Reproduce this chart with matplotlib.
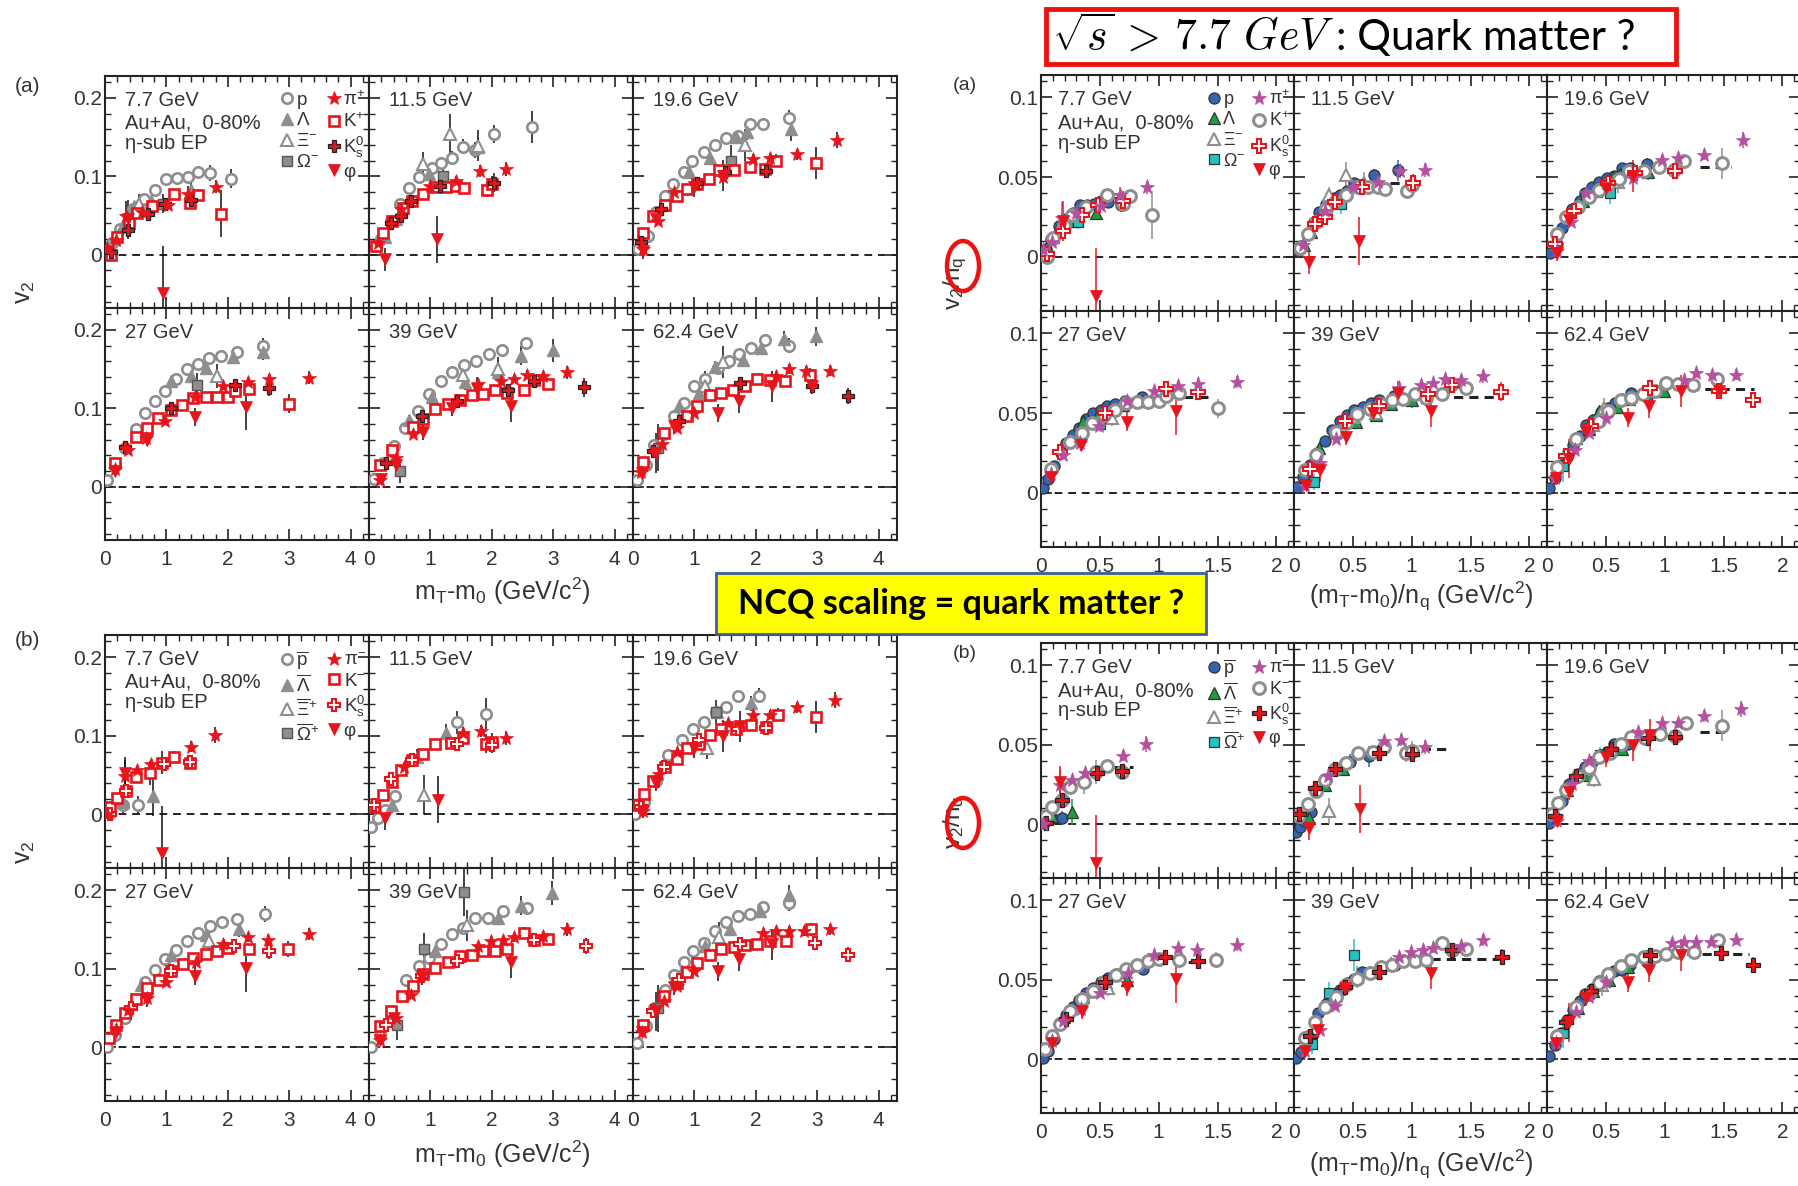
import matplotlib
matplotlib.use("Agg")
import matplotlib.pyplot as plt
from matplotlib.patches import Rectangle, Ellipse
from matplotlib.ticker import FixedLocator, MultipleLocator, FixedFormatter
from matplotlib.lines import Line2D

plt.rcParams['font.family'] = ['Liberation Sans', 'DejaVu Sans']
plt.rcParams['mathtext.fontset'] = 'custom'
plt.rcParams['mathtext.rm'] = 'Liberation Sans'
plt.rcParams['mathtext.it'] = 'Liberation Sans:italic'
plt.rcParams['mathtext.bf'] = 'Liberation Sans:bold'

# ---------------------------------------------------------------- data
ENERGIES = ["7.7 GeV", "11.5 GeV", "19.6 GeV", "27 GeV", "39 GeV", "62.4 GeV"]
SPECIES = ["p", "L", "Xi", "Om", "pi", "K", "Ks", "phi"]
NQ = {"p": 3, "L": 3, "Xi": 3, "Om": 3, "pi": 2, "K": 2, "Ks": 2, "phi": 2}

# (a) particles : species -> (mT-m0, v2, err)
A77 = {
    "p": ([0.05, 0.12, 0.25, 0.45, 0.64, 0.82, 1.0, 1.17, 1.36, 1.52, 1.71, 2.05],
          [0.006, 0.015, 0.033, 0.058, 0.071, 0.082, 0.097, 0.098, 0.099, 0.105, 0.104, 0.097],
          [0.003, 0.003, 0.003, 0.004, 0.004, 0.004, 0.005, 0.005, 0.006, 0.007, 0.010, 0.012]),
    "L": ([0.15, 0.3, 0.48, 0.75, 1.4], [0.02, 0.038, 0.062, 0.068, 0.082], [0.004, 0.004, 0.005, 0.006, 0.01]),
    "Xi": ([0.55], [0.065], [0.012]),
    "Om": ([0.95], [0.065], [0.012]),
    "pi": ([0.04, 0.18, 0.35, 0.6, 1.02, 1.35, 1.81], [0.008, 0.019, 0.049, 0.055, 0.064, 0.078, 0.087],
           [0.002, 0.003, 0.02, 0.004, 0.005, 0.01, 0.008]),
    "K": ([0.1, 0.2, 0.39, 0.52, 0.76, 1.13, 1.39, 1.52, 1.89],
          [0.0, 0.023, 0.04, 0.053, 0.062, 0.077, 0.066, 0.076, 0.052],
          [0.003, 0.004, 0.004, 0.005, 0.005, 0.006, 0.007, 0.008, 0.03]),
    "Ks": ([0.1, 0.37, 0.7, 0.97, 1.4], [0.003, 0.032, 0.052, 0.065, 0.07], [0.003, 0.005, 0.005, 0.006, 0.012]),
    "phi": ([0.37, 0.94], [0.045, -0.049], [0.025, 0.06]),
}
A115 = {
    "p": ([0.11, 0.19, 0.36, 0.5, 0.65, 0.82, 1.03, 1.18, 1.36, 1.53, 1.73, 2.03, 2.65],
          [0.011, 0.02, 0.043, 0.065, 0.085, 0.099, 0.111, 0.117, 0.124, 0.138, 0.134, 0.154, 0.163],
          [0.003, 0.003, 0.004, 0.005, 0.005, 0.006, 0.006, 0.007, 0.008, 0.009, 0.01, 0.012, 0.02]),
    "L": ([0.26, 0.44, 0.98, 1.78], [0.022, 0.046, 0.103, 0.137], [0.005, 0.006, 0.008, 0.012]),
    "Xi": ([0.88, 1.32, 1.78], [0.116, 0.154, 0.139], [0.015, 0.025, 0.02]),
    "Om": ([1.2], [0.1], [0.02]),
    "pi": ([0.15, 0.52, 1.0, 1.42, 1.8, 2.23], [0.015, 0.058, 0.088, 0.094, 0.107, 0.109],
           [0.003, 0.005, 0.006, 0.007, 0.008, 0.009]),
    "K": ([0.11, 0.23, 0.37, 0.55, 0.7, 0.88, 1.08, 1.25, 1.42, 1.54, 1.92, 2.01],
          [0.011, 0.028, 0.043, 0.06, 0.069, 0.077, 0.087, 0.087, 0.088, 0.085, 0.083, 0.09],
          [0.003, 0.003, 0.004, 0.004, 0.004, 0.005, 0.005, 0.006, 0.006, 0.007, 0.01, 0.01]),
    "Ks": ([0.36, 0.52, 0.69, 1.15, 2.03], [0.041, 0.05, 0.069, 0.088, 0.092], [0.004, 0.005, 0.005, 0.006, 0.012]),
    "phi": ([0.26, 1.11], [-0.006, 0.02], [0.015, 0.03]),
}
A196 = {
    "p": ([0.08, 0.25, 0.38, 0.52, 0.65, 0.83, 0.96, 1.15, 1.33, 1.52, 1.71, 1.9, 2.12, 2.54],
          [0.007, 0.024, 0.054, 0.075, 0.09, 0.105, 0.12, 0.131, 0.14, 0.149, 0.152, 0.167, 0.167, 0.175],
          [0.002, 0.002, 0.003, 0.003, 0.003, 0.004, 0.004, 0.004, 0.005, 0.005, 0.006, 0.006, 0.007, 0.01]),
    "L": ([0.92, 1.25, 1.67, 1.85, 2.57], [0.105, 0.124, 0.15, 0.156, 0.16], [0.006, 0.007, 0.008, 0.01, 0.015]),
    "Xi": ([1.82], [0.14], [0.02]),
    "Om": ([1.6], [0.12], [0.02]),
    "pi": ([0.17, 0.4, 0.67, 1.46, 1.96, 2.23, 2.67, 3.33], [0.007, 0.043, 0.08, 0.099, 0.122, 0.124, 0.128, 0.146],
           [0.002, 0.003, 0.004, 0.005, 0.006, 0.006, 0.007, 0.01]),
    "K": ([0.17, 0.33, 0.52, 0.71, 0.88, 1.04, 1.23, 1.4, 1.65, 1.9, 2.15, 2.33, 2.98],
          [0.028, 0.05, 0.063, 0.075, 0.084, 0.09, 0.097, 0.108, 0.108, 0.112, 0.109, 0.12, 0.117],
          [0.002, 0.003, 0.003, 0.003, 0.004, 0.004, 0.004, 0.005, 0.005, 0.006, 0.007, 0.008, 0.02]),
    "Ks": ([0.13, 0.46, 1.04, 1.5, 2.17], [0.016, 0.058, 0.092, 0.105, 0.107], [0.003, 0.004, 0.005, 0.006, 0.007]),
    "phi": ([0.17, 0.38, 1.0, 1.46], [0.005, 0.046, 0.086, 0.101], [0.01, 0.01, 0.012, 0.02]),
}
A27 = {
    "p": ([0.04, 0.17, 0.33, 0.5, 0.65, 0.82, 0.98, 1.15, 1.33, 1.52, 1.69, 1.89, 2.15, 2.58],
          [0.009, 0.026, 0.05, 0.074, 0.094, 0.109, 0.122, 0.138, 0.15, 0.156, 0.164, 0.167, 0.172, 0.18],
          [0.002, 0.002, 0.002, 0.003, 0.003, 0.003, 0.003, 0.004, 0.004, 0.004, 0.005, 0.005, 0.006, 0.01]),
    "L": ([1.08, 1.4, 1.65, 2.08, 2.57], [0.135, 0.141, 0.152, 0.165, 0.172], [0.005, 0.006, 0.007, 0.008, 0.01]),
    "Xi": ([1.82], [0.141], [0.015]),
    "Om": ([1.5], [0.13], [0.015]),
    "pi": ([0.17, 0.37, 0.67, 0.98, 1.46, 1.92, 2.33, 2.67, 3.33],
           [0.023, 0.047, 0.062, 0.084, 0.115, 0.128, 0.134, 0.137, 0.139],
           [0.002, 0.003, 0.003, 0.004, 0.004, 0.005, 0.006, 0.007, 0.008]),
    "K": ([0.17, 0.5, 0.69, 0.86, 1.07, 1.25, 1.44, 1.64, 1.82, 2.0, 2.12, 2.35, 3.0],
          [0.03, 0.064, 0.075, 0.088, 0.098, 0.104, 0.113, 0.114, 0.114, 0.115, 0.122, 0.125, 0.106],
          [0.002, 0.003, 0.003, 0.003, 0.003, 0.004, 0.004, 0.004, 0.005, 0.005, 0.006, 0.007, 0.012]),
    "Ks": ([0.33, 1.08, 2.12, 2.67], [0.051, 0.1, 0.13, 0.126], [0.004, 0.005, 0.007, 0.01]),
    "phi": ([0.17, 0.68, 1.46, 2.29], [0.02, 0.06, 0.089, 0.102], [0.006, 0.008, 0.012, 0.03]),
}
A39 = {
    "p": ([0.08, 0.23, 0.4, 0.59, 0.79, 0.98, 1.18, 1.36, 1.54, 1.75, 1.96, 2.17, 2.55],
          [0.01, 0.03, 0.052, 0.075, 0.097, 0.118, 0.135, 0.146, 0.155, 0.161, 0.169, 0.175, 0.183],
          [0.002, 0.002, 0.002, 0.003, 0.003, 0.003, 0.003, 0.004, 0.004, 0.004, 0.005, 0.006, 0.008]),
    "L": ([0.65, 1.02, 1.57, 2.1, 2.48, 3.0], [0.085, 0.115, 0.133, 0.146, 0.167, 0.174],
          [0.006, 0.007, 0.009, 0.01, 0.012, 0.015]),
    "Xi": ([1.53, 2.1], [0.143, 0.15], [0.015, 0.015]),
    "Om": ([0.5], [0.02], [0.015]),
    "pi": ([0.18, 0.44, 0.71, 1.78, 2.15, 2.36, 2.57, 2.84, 3.22],
           [0.009, 0.037, 0.067, 0.131, 0.135, 0.138, 0.143, 0.141, 0.146],
           [0.002, 0.003, 0.003, 0.004, 0.005, 0.005, 0.006, 0.006, 0.008]),
    "K": ([0.18, 0.38, 0.72, 0.88, 1.07, 1.29, 1.48, 1.67, 1.85, 2.05, 2.25, 2.52, 2.68, 2.92],
          [0.028, 0.047, 0.076, 0.087, 0.099, 0.105, 0.111, 0.117, 0.118, 0.124, 0.119, 0.124, 0.136, 0.131],
          [0.002, 0.003, 0.003, 0.003, 0.003, 0.004, 0.004, 0.004, 0.005, 0.005, 0.005, 0.006, 0.007, 0.008]),
    "Ks": ([0.28, 0.86, 1.44, 2.27, 2.69, 3.51], [0.03, 0.09, 0.109, 0.124, 0.135, 0.127],
           [0.004, 0.005, 0.005, 0.006, 0.007, 0.012]),
    "phi": ([0.2, 0.44, 0.88, 1.35, 1.76, 2.32], [0.01, 0.028, 0.07, 0.1, 0.125, 0.103],
            [0.006, 0.015, 0.01, 0.01, 0.015, 0.02]),
}
A624 = {
    "p": ([0.06, 0.21, 0.35, 0.5, 0.67, 0.83, 1.0, 1.17, 1.38, 1.56, 1.73, 1.92, 2.15, 2.54],
          [0.009, 0.028, 0.053, 0.067, 0.09, 0.107, 0.128, 0.137, 0.152, 0.16, 0.169, 0.177, 0.187, 0.18],
          [0.002, 0.002, 0.002, 0.003, 0.003, 0.003, 0.003, 0.004, 0.004, 0.004, 0.005, 0.006, 0.007, 0.01]),
    "L": ([0.75, 1.08, 1.33, 1.79, 2.08, 2.46, 2.98], [0.103, 0.12, 0.153, 0.162, 0.177, 0.189, 0.192],
          [0.005, 0.006, 0.007, 0.008, 0.009, 0.01, 0.012]),
    "Xi": ([1.17, 1.46], [0.128, 0.159], [0.02, 0.02]),
    "Om": ([0.4], [0.05], [0.03]),
    "pi": ([0.13, 0.48, 0.71, 1.0, 2.33, 2.54, 2.81, 3.21], [0.019, 0.054, 0.075, 0.094, 0.141, 0.15, 0.148, 0.148],
           [0.002, 0.003, 0.003, 0.004, 0.005, 0.006, 0.006, 0.007]),
    "K": ([0.17, 0.5, 0.88, 1.04, 1.25, 1.43, 1.63, 1.83, 2.02, 2.23, 2.48, 2.89],
          [0.032, 0.068, 0.09, 0.103, 0.117, 0.119, 0.124, 0.128, 0.138, 0.136, 0.135, 0.143],
          [0.002, 0.003, 0.003, 0.003, 0.004, 0.004, 0.004, 0.005, 0.005, 0.006, 0.007, 0.008]),
    "Ks": ([0.33, 0.75, 1.75, 2.92, 3.5], [0.046, 0.084, 0.132, 0.128, 0.116], [0.004, 0.005, 0.006, 0.008, 0.01]),
    "phi": ([0.15, 0.38, 0.67, 1.38, 1.73, 2.27, 2.92], [0.018, 0.043, 0.077, 0.094, 0.109, 0.128, 0.128],
            [0.006, 0.025, 0.01, 0.012, 0.015, 0.02, 0.01]),
}

# (b) anti-particles
B77 = {
    "p": ([0.08, 0.29, 0.54], [0.002, 0.012, 0.012], [0.005, 0.01, 0.012]),
    "L": ([0.29, 0.78], [0.016, 0.023], [0.01, 0.025]),
    "Xi": ([], [], []),
    "Om": ([], [], []),
    "pi": ([0.04, 0.32, 0.52, 0.75, 1.4, 1.79], [0.0, 0.049, 0.056, 0.064, 0.086, 0.101],
           [0.003, 0.02, 0.005, 0.005, 0.007, 0.01]),
    "K": ([0.08, 0.19, 0.35, 0.5, 0.73, 0.93, 1.13, 1.38], [0.01, 0.021, 0.03, 0.047, 0.053, 0.066, 0.073, 0.066],
          [0.003, 0.004, 0.005, 0.006, 0.015, 0.015, 0.008, 0.006]),
    "Ks": ([0.08, 0.35, 0.96, 1.38], [0.001, 0.03, 0.064, 0.067], [0.004, 0.006, 0.008, 0.008]),
    "phi": ([0.32, 0.93], [0.053, -0.049], [0.02, 0.06]),
}
B115 = {
    "p": ([0.04, 0.15, 0.26, 0.43, 1.44, 1.9], [-0.016, -0.005, 0.006, 0.023, 0.117, 0.128],
          [0.005, 0.005, 0.006, 0.007, 0.015, 0.02]),
    "L": ([0.38, 0.78, 1.26], [0.012, 0.073, 0.103], [0.01, 0.01, 0.012]),
    "Xi": ([0.9], [0.025], [0.025]),
    "Om": ([], [], []),
    "pi": ([0.57, 1.53, 1.82, 2.23], [0.06, 0.104, 0.106, 0.097], [0.005, 0.007, 0.008, 0.009]),
    "K": ([0.08, 0.23, 0.38, 0.52, 0.7, 0.88, 1.08, 1.34, 1.53, 1.9, 2.01],
          [0.01, 0.025, 0.041, 0.056, 0.069, 0.077, 0.09, 0.091, 0.097, 0.09, 0.092],
          [0.003, 0.003, 0.004, 0.004, 0.005, 0.005, 0.006, 0.006, 0.007, 0.012, 0.012]),
    "Ks": ([0.08, 0.36, 0.7, 1.44, 2.01], [0.012, 0.045, 0.069, 0.09, 0.088], [0.004, 0.005, 0.005, 0.007, 0.01]),
    "phi": ([0.26, 1.13], [-0.005, 0.019], [0.015, 0.03]),
}
B196 = {
    "p": ([0.04, 0.18, 0.38, 0.57, 0.79, 0.98, 1.15, 1.35, 1.52, 1.71, 2.06],
          [0.001, 0.016, 0.043, 0.075, 0.095, 0.108, 0.118, 0.13, 0.137, 0.151, 0.151],
          [0.002, 0.002, 0.003, 0.003, 0.003, 0.004, 0.004, 0.005, 0.005, 0.006, 0.01]),
    "L": ([0.5, 1.08, 1.37, 1.92], [0.064, 0.093, 0.13, 0.141], [0.005, 0.006, 0.008, 0.01]),
    "Xi": ([1.2], [0.085], [0.015]),
    "Om": ([1.35], [0.13], [0.015]),
    "pi": ([0.17, 0.42, 0.71, 1.54, 1.96, 2.23, 2.67, 3.29], [0.004, 0.051, 0.079, 0.116, 0.127, 0.127, 0.136, 0.145],
           [0.002, 0.003, 0.004, 0.005, 0.006, 0.006, 0.007, 0.01]),
    "K": ([0.08, 0.18, 0.33, 0.52, 0.71, 0.88, 1.07, 1.25, 1.43, 1.67, 1.92, 2.17, 2.36, 2.98],
          [0.012, 0.026, 0.043, 0.06, 0.071, 0.084, 0.09, 0.101, 0.109, 0.108, 0.114, 0.111, 0.127, 0.124],
          [0.002, 0.002, 0.003, 0.003, 0.003, 0.004, 0.004, 0.004, 0.005, 0.005, 0.006, 0.007, 0.008, 0.02]),
    "Ks": ([0.13, 0.5, 1.08, 1.71, 2.17], [0.01, 0.06, 0.095, 0.108, 0.11], [0.003, 0.004, 0.005, 0.006, 0.007]),
    "phi": ([0.17, 0.38, 1.0, 1.46, 1.75], [0.004, 0.04, 0.084, 0.1, 0.112], [0.008, 0.01, 0.012, 0.02, 0.02]),
}
B27 = {
    "p": ([0.04, 0.17, 0.33, 0.65, 0.82, 0.98, 1.15, 1.33, 1.52, 1.71, 1.9, 2.15, 2.6],
          [0.001, 0.016, 0.037, 0.083, 0.099, 0.112, 0.124, 0.135, 0.146, 0.154, 0.16, 0.163, 0.17],
          [0.002, 0.002, 0.002, 0.003, 0.003, 0.003, 0.004, 0.004, 0.004, 0.005, 0.005, 0.006, 0.01]),
    "L": ([0.58, 1.08, 1.65, 2.18], [0.08, 0.118, 0.143, 0.15], [0.005, 0.006, 0.008, 0.01]),
    "Xi": ([1.7], [0.135], [0.015]),
    "Om": ([], [], []),
    "pi": ([0.18, 0.38, 0.68, 1.0, 1.48, 1.92, 2.33, 2.65, 3.33],
           [0.023, 0.048, 0.063, 0.083, 0.108, 0.131, 0.14, 0.137, 0.144],
           [0.002, 0.003, 0.003, 0.004, 0.004, 0.005, 0.006, 0.007, 0.008]),
    "K": ([0.07, 0.18, 0.33, 0.5, 0.69, 0.88, 1.07, 1.27, 1.44, 1.64, 1.82, 2.0, 2.35, 2.98],
          [0.012, 0.029, 0.044, 0.061, 0.076, 0.086, 0.097, 0.106, 0.114, 0.119, 0.123, 0.126, 0.125, 0.125],
          [0.002, 0.002, 0.003, 0.003, 0.003, 0.003, 0.004, 0.004, 0.004, 0.005, 0.005, 0.006, 0.007, 0.01]),
    "Ks": ([0.42, 1.08, 2.1, 2.67], [0.05, 0.097, 0.129, 0.123], [0.004, 0.005, 0.007, 0.01]),
    "phi": ([0.18, 0.69, 1.46, 2.29], [0.02, 0.061, 0.091, 0.101], [0.006, 0.01, 0.012, 0.03]),
}
B39 = {
    "p": ([0.04, 0.18, 0.36, 0.61, 0.82, 0.98, 1.18, 1.36, 1.53, 1.73, 1.94, 2.19, 2.57],
          [0.001, 0.014, 0.044, 0.086, 0.103, 0.114, 0.131, 0.144, 0.152, 0.165, 0.165, 0.174, 0.177],
          [0.002, 0.002, 0.002, 0.003, 0.003, 0.003, 0.003, 0.004, 0.004, 0.005, 0.005, 0.006, 0.008]),
    "L": ([1.07, 2.1, 2.48, 2.98], [0.123, 0.165, 0.18, 0.196], [0.006, 0.01, 0.012, 0.015]),
    "Xi": ([1.6], [0.155], [0.02]),
    "Om": ([0.46, 0.9, 1.54], [0.029, 0.125, 0.197], [0.02, 0.02, 0.03]),
    "pi": ([0.18, 0.44, 0.69, 1.78, 1.99, 2.19, 2.36, 2.84, 3.22],
           [0.01, 0.037, 0.067, 0.129, 0.135, 0.137, 0.14, 0.142, 0.15],
           [0.002, 0.003, 0.003, 0.004, 0.005, 0.005, 0.006, 0.006, 0.008]),
    "K": ([0.18, 0.36, 0.53, 0.72, 0.88, 1.07, 1.29, 1.48, 1.67, 1.86, 2.05, 2.25, 2.52, 2.68, 2.92],
          [0.027, 0.046, 0.065, 0.078, 0.093, 0.101, 0.108, 0.116, 0.118, 0.123, 0.123, 0.125, 0.146, 0.137, 0.138],
          [0.002, 0.002, 0.003, 0.003, 0.003, 0.003, 0.004, 0.004, 0.004, 0.005, 0.005, 0.006, 0.007, 0.007, 0.008]),
    "Ks": ([0.28, 0.86, 1.44, 2.68, 3.53], [0.029, 0.091, 0.11, 0.137, 0.129], [0.004, 0.005, 0.005, 0.007, 0.01]),
    "phi": ([0.18, 0.4, 0.86, 2.32], [0.01, 0.037, 0.09, 0.108], [0.005, 0.01, 0.01, 0.02]),
}
B624 = {
    "p": ([0.06, 0.21, 0.35, 0.52, 0.67, 0.83, 0.98, 1.15, 1.33, 1.52, 1.71, 1.9, 2.12, 2.54],
          [0.006, 0.027, 0.05, 0.073, 0.092, 0.109, 0.123, 0.133, 0.148, 0.159, 0.167, 0.169, 0.178, 0.183],
          [0.002, 0.002, 0.002, 0.003, 0.003, 0.003, 0.003, 0.004, 0.004, 0.004, 0.005, 0.006, 0.007, 0.01]),
    "L": ([0.79, 1.17, 1.58, 2.07, 2.54], [0.097, 0.129, 0.15, 0.174, 0.194], [0.005, 0.006, 0.008, 0.009, 0.012]),
    "Xi": ([1.4], [0.14], [0.02]),
    "Om": ([0.4], [0.05], [0.03]),
    "pi": ([0.15, 0.5, 0.71, 1.0, 2.12, 2.33, 2.54, 2.79, 3.21],
           [0.02, 0.059, 0.078, 0.097, 0.146, 0.148, 0.148, 0.148, 0.15],
           [0.002, 0.003, 0.003, 0.004, 0.005, 0.005, 0.006, 0.006, 0.007]),
    "K": ([0.17, 0.5, 0.71, 0.88, 1.04, 1.25, 1.43, 1.65, 1.83, 2.02, 2.23, 2.5, 2.9],
          [0.029, 0.066, 0.082, 0.096, 0.107, 0.117, 0.125, 0.128, 0.13, 0.132, 0.135, 0.135, 0.15],
          [0.002, 0.003, 0.003, 0.003, 0.003, 0.004, 0.004, 0.004, 0.005, 0.005, 0.006, 0.007, 0.008]),
    "Ks": ([0.33, 0.75, 1.75, 2.96, 3.5], [0.046, 0.086, 0.131, 0.133, 0.118], [0.004, 0.005, 0.006, 0.008, 0.01]),
    "phi": ([0.15, 0.38, 0.67, 1.38, 1.73, 2.27], [0.02, 0.046, 0.077, 0.097, 0.112, 0.131],
            [0.006, 0.025, 0.01, 0.012, 0.015, 0.02]),
}

# dashed NCQ-fit tails visible in the right-hand panels: start, end, level
FIT_A_START = [0.62, 0.82, 1.3, 0.95, 1.1, 0.95]
FIT_A_END = [0.78, 1.0, 1.56, 1.42, 1.75, 1.76]
FIT_A_LEVEL = [0.037, 0.046, 0.056, 0.060, 0.060, 0.065]
FIT_B_START = [0.62, 0.95, 1.3, 1.12, 1.16, 0.8]
FIT_B_END = [0.78, 1.3, 1.55, 1.38, 1.74, 1.72]
FIT_B_LEVEL = [0.036, 0.047, 0.058, 0.061, 0.063, 0.066]

LEFT_XTICKS = [0, 1, 2, 3, 4]
LEFT_YTICKS = [0, 0.1, 0.2]
RIGHT_XTICKS = [0, 0.5, 1, 1.5, 2]
RIGHT_YTICKS = [0, 0.05, 0.1]

LABELS_A = ["p", "Λ", "Ξ$^{-}$", "Ω$^{-}$", "π$^{+}$", "K$^{+}$", "K$^{0}_{\\rm s}$", "φ"]
LABELS_B = [r"$\overline{\rm p}$", r"$\overline{\Lambda}$", r"$\overline{\Xi}^{+}$", r"$\overline{\Omega}^{+}$",
            "π$^{-}$", "K$^{-}$", "K$^{0}_{\\rm s}$", "φ"]

A_DATA = [A77, A115, A196, A27, A39, A624]
B_DATA = [B77, B115, B196, B27, B39, B624]

# ---------------------------------------------------------------- styles
W, H = 1798, 1186
fig = plt.figure(figsize=(W / 100, H / 100), dpi=100)
TXT = '#333333'
GRAY = '#8e8e8e'
RED = '#e8141c'

def left_style(anti):
    ks = dict(marker='P', mfc='white', mec=RED, ms=9, mew=1.5) if anti else \
         dict(marker='P', mfc=RED, mec='#222222', ms=9, mew=0.9)
    return {
        "p": dict(marker='o', mfc='white', mec=GRAY, ms=7.5, mew=1.9),
        "L": dict(marker='^', mfc=GRAY, mec=GRAY, ms=8.5, mew=1),
        "Xi": dict(marker='^', mfc='white', mec=GRAY, ms=8.5, mew=1.5),
        "Om": dict(marker='s', mfc=GRAY, mec='#555555', ms=7.5, mew=1),
        "pi": dict(marker='*', mfc=RED, mec=RED, ms=10.5, mew=0.5),
        "K": dict(marker='s', mfc='white', mec=RED, ms=7.5, mew=1.9),
        "Ks": ks,
        "phi": dict(marker='v', mfc=RED, mec=RED, ms=8.5, mew=0.5),
    }

def right_style(anti):
    ks = dict(marker='P', mfc=RED, mec='#222222', ms=9.5, mew=0.9) if anti else \
         dict(marker='P', mfc='white', mec=RED, ms=9.5, mew=1.5)
    return {
        "p": dict(marker='o', mfc='#3565b0', mec='#333333', ms=8, mew=0.9),
        "L": dict(marker='^', mfc='#1d9e43', mec='#333333', ms=8.5, mew=0.9),
        "Xi": dict(marker='^', mfc='white', mec=GRAY, ms=8.5, mew=1.5),
        "Om": dict(marker='s', mfc='#24c3c3', mec='#333333', ms=7.5, mew=0.9),
        "pi": dict(marker='*', mfc='#b4519f', mec='#b4519f', ms=11, mew=0.5),
        "K": dict(marker='o', mfc='white', mec=GRAY, ms=8.5, mew=2.2),
        "Ks": ks,
        "phi": dict(marker='v', mfc=RED, mec=RED, ms=9, mew=0.5),
    }

RIGHT_ECOLOR = {"p": '#3565b0', "L": '#1d9e43', "Xi": GRAY, "Om": '#24c3c3', "pi": '#b4519f',
                "K": GRAY, "Ks": RED, "phi": RED}
DRAW_ORDER = ["p", "L", "Xi", "Om", "K", "Ks", "pi", "phi"]


def add_axes_px(x0, y0, w, h):
    return fig.add_axes([x0 / W, 1 - (y0 + h) / H, w / W, h / H])


def style_axes(ax, xlim, ylim, xt, yt, xminor, yminor, show_x, show_y, ylab, xlab):
    ax.set_xlim(*xlim)
    ax.set_ylim(*ylim)
    ax.xaxis.set_major_locator(FixedLocator(xt))
    ax.yaxis.set_major_locator(FixedLocator(yt))
    ax.xaxis.set_minor_locator(MultipleLocator(xminor))
    ax.yaxis.set_minor_locator(MultipleLocator(yminor))
    ax.tick_params(which='both', direction='in', top=True, right=True, colors='#222222',
                   labelcolor=TXT, labelsize=15)
    ax.tick_params(which='major', length=8, width=1.2)
    ax.tick_params(which='minor', length=4, width=1.0)
    ax.tick_params(axis='y', pad=2)
    ax.tick_params(axis='x', pad=7)
    if show_x:
        ax.xaxis.set_major_formatter(FixedFormatter(xlab))
    else:
        ax.set_xticklabels([])
    if show_y:
        ax.yaxis.set_major_formatter(FixedFormatter(ylab))
    else:
        ax.set_yticklabels([])
    for s in ax.spines.values():
        s.set_linewidth(1.5)
        s.set_color('#222222')
    ax.axhline(0, color='#222222', lw=1.4, ls=(0, (4, 3)), zorder=1)


def draw_left(ax, data, anti):
    st = left_style(anti)
    for sp in DRAW_ORDER:
        x, y, e = data[sp]
        if not x:
            continue
        ax.errorbar(x, y, yerr=e, fmt='none', ecolor='#111111', elinewidth=1.1, zorder=2)
        ax.plot(x, y, ls='none', zorder=3, **st[sp])


def draw_right(ax, data, anti, fs, fe, fl):
    st = right_style(anti)
    ax.plot([fs, fe], [fl, fl], color='#222222', lw=2.2, ls=(0, (3, 2)), zorder=2)
    for sp in DRAW_ORDER:
        x, y, e = data[sp]
        if not x:
            continue
        n = NQ[sp]
        xs = [v / n for v in x]
        ys = [v / n for v in y]
        es = [v / n for v in e]
        ax.errorbar(xs, ys, yerr=es, fmt='none', ecolor=RIGHT_ECOLOR[sp], elinewidth=1.1, zorder=3)
        ax.plot(xs, ys, ls='none', zorder=4, **st[sp])


def legend(ax, anti, right, labels):
    st = right_style(anti) if right else left_style(anti)
    handles = [Line2D([], [], ls='none', **st[s]) for s in SPECIES]
    x0 = 0.655 if right else 0.66
    leg = ax.legend(handles, labels, ncol=2, loc='upper left', bbox_to_anchor=(x0, 0.94),
                    frameon=False, fontsize=13.5 if not right else 13, handlelength=0.8,
                    handletextpad=0.12, columnspacing=0.35, labelspacing=0.2, borderpad=0,
                    borderaxespad=0)
    for t in leg.get_texts():
        t.set_color(TXT)


def panel_text(ax, k, right):
    x0 = 0.068 if right else 0.075
    fs = 14.5
    ax.text(x0, 0.895, ENERGIES[k], transform=ax.transAxes, fontsize=fs, color=TXT, va='center', ha='left')
    if k == 0:
        ax.text(x0, 0.797, "Au+Au,  0-80%", transform=ax.transAxes, fontsize=fs, color=TXT, va='center')
        ax.text(x0, 0.711, "η-sub EP", transform=ax.transAxes, fontsize=fs, color=TXT, va='center')


# ---------------------------------------------------------------- panels
LEFT_COLS = [105, 369, 633]
LEFT_W = 264
RIGHT_COLS = [1041, 1294, 1547]
RIGHT_W = 253
GROUPS = [
    (A_DATA, False, [76, 308], 232, [75, 311], 236, (FIT_A_START, FIT_A_END, FIT_A_LEVEL), LABELS_A),
    (B_DATA, True, [635, 868], 233, [643, 878], 235, (FIT_B_START, FIT_B_END, FIT_B_LEVEL), LABELS_B),
]

for data, anti, ltops, lh, rtops, rh, fits, labels in GROUPS:
    for k in range(6):
        r, c = divmod(k, 3)
        ax = add_axes_px(LEFT_COLS[c], ltops[r], LEFT_W, lh)
        style_axes(ax, (0, 4.3), (-0.068, 0.228), LEFT_XTICKS, LEFT_YTICKS, 0.2, 0.02,
                   r == 1, c == 0, ["0", "0.1", "0.2"], ["0", "1", "2", "3", "4"])
        draw_left(ax, data[k], anti)
        panel_text(ax, k, False)
        if k == 0:
            legend(ax, anti, False, labels)
        ax2 = add_axes_px(RIGHT_COLS[c], rtops[r], RIGHT_W, rh)
        style_axes(ax2, (0, 2.15), (-0.034, 0.114), RIGHT_XTICKS, RIGHT_YTICKS, 0.1, 0.01,
                   r == 1, c == 0, ["0", "0.05", "0.1"], ["0", "0.5", "1", "1.5", "2"])
        draw_right(ax2, data[k], anti, fits[0][k], fits[1][k], fits[2][k])
        panel_text(ax2, k, True)
        if k == 0:
            legend(ax2, anti, True, labels)


def ftext(x, y, s, **kw):
    return fig.text(x / W, 1 - y / H, s, **kw)

# axis titles
for yc in (292, 852):
    ftext(25, yc, "v$_2$", rotation=90, fontsize=18, color=TXT, ha='center', va='center')
for yc in (283, 822):
    ftext(955, yc, r"v$_2$/n$_{\rm q}$", rotation=90, fontsize=17.5, color=TXT, ha='center', va='center')
for yc in (591, 1154):
    ftext(502, yc, r"m$_{\rm T}$-m$_0$ (GeV/c$^2$)", fontsize=18, color=TXT, ha='center', va='center')
for yc in (596, 1164):
    ftext(1421, yc, r"(m$_{\rm T}$-m$_0$)/n$_{\rm q}$ (GeV/c$^2$)", fontsize=18, color=TXT,
          ha='center', va='center')

ftext(27, 87, "(a)", fontsize=15, color=TXT, ha='center', va='center')
ftext(27, 641, "(b)", fontsize=15, color=TXT, ha='center', va='center')
ftext(965, 86, "(a)", fontsize=14, color=TXT, ha='center', va='center')
ftext(965, 653, "(b)", fontsize=14, color=TXT, ha='center', va='center')

# red ellipses around n_q
for yc in (266, 823):
    fig.patches.append(Ellipse((963 / W, 1 - yc / H), 32 / W, 50 / H, transform=fig.transFigure,
                               fill=False, edgecolor='#ee1111', lw=3.2, zorder=10))

# title box
fig.patches.append(Rectangle((1046 / W, 1 - 64 / H), 630 / W, 55 / H, transform=fig.transFigure,
                             fill=False, edgecolor='#ee1111', lw=3.5, zorder=10))
t1 = ftext(1052, 50, r"$\sqrt{s}\,>\,7.7\ GeV$", fontsize=30, color='black', ha='left', va='baseline',
           math_fontfamily='cm')
t2 = ftext(1336, 50, ": Quark matter ?", fontsize=29, color='black', ha='left', va='baseline',
           family=['Lato', 'DejaVu Sans'])

# yellow box
fig.patches.append(Rectangle((716 / W, 1 - 634 / H), 490 / W, 61 / H, transform=fig.transFigure,
                             facecolor='#ffff00', edgecolor='#3a5fa0', lw=2, zorder=10))
t3 = ftext(961, 604, "NCQ scaling = quark matter ?", fontsize=21, fontweight='bold', color='black',
           ha='center', va='center', family=['Lato', 'DejaVu Sans'], zorder=11)

fig.canvas.draw()
r = fig.canvas.get_renderer()
for t, target in ((t1, 282), (t2, 300), (t3, 447)):
    for _ in range(3):
        w = t.get_window_extent(r).width
        t.set_fontsize(t.get_fontsize() * target / w)

fig.savefig("out.png", dpi=100)
